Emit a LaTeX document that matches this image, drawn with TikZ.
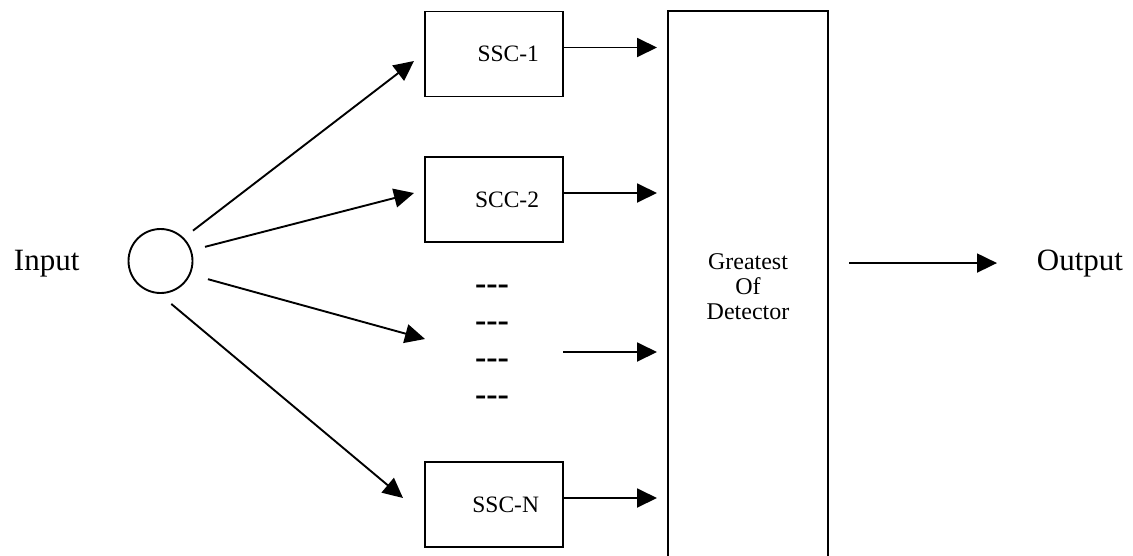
\documentclass[tikz,border=0pt]{standalone}
\usepackage{fontspec}
\setmainfont{Liberation Serif}
\usetikzlibrary{arrows.meta}

\begin{document}
\begin{tikzpicture}[x=1pt, y=-1pt, >={Triangle[length=20pt,width=19pt]}, line width=1.9pt]
        \tikzset{
  inputnode/.style={
    circle,
    draw,
    minimum size=64pt,
    inner sep=0pt
  },
  every ssc/.style={
    rectangle,
    draw,
    minimum width=138pt,
    minimum height=85pt,
    text width=90pt,
    inner xsep=24pt,
    align=right,
    outer sep=0pt,
    font=\fontsize{23.5}{26}\selectfont
  },
  godbox/.style={
    rectangle,
    draw,
    minimum width=160pt,
    minimum height=552pt,
    align=center,
    outer sep=0pt,
    font=\fontsize{24}{25}\selectfont
  },
  plaintext/.style={
    inner sep=0pt,
    font=\fontsize{31}{31}\selectfont
  },
  dashtext/.style={
    inner sep=0pt,
    font=\fontsize{34}{34}\selectfont\bfseries
  }
}

\useasboundingbox (0,0) rectangle (1133,555);

\node [plaintext, anchor=base west] (input) at (13,270) {Input};
\node [inputnode] (in) at (160.5,261) {};

\foreach \m/\l/\y in {1/SSC-1/54, 2/SCC-2/199.5, N/SSC-N/504.5}
  \node [every ssc] (ssc-\m) at (494,\y) {\l};

\node [godbox] (god) at (748,287) {Greatest\\Of\\Detector};
\node [plaintext, anchor=base west] (output) at (1036,270) {Output};

\foreach \k/\y in {1/294,2/331,3/368,4/405}
  \node [dashtext, anchor=base] (dash-\k) at (492,\y) {\mbox{-}\mbox{-}\mbox{-}};

% free ends of the fan
\coordinate (tip-1) at (414,61);
\coordinate (tip-2) at (414,193);
\coordinate (tip-3) at (425,339);
\coordinate (tip-N) at (403,498);
\coordinate (dashout) at (563,352);

\foreach \a/\g/\m in {45.8/11.6/1, 19.3/13.8/2, -24.4/18/3, -92.5/15.6/N}
  \draw [->, shorten <=\g pt] (in.\a) -- (tip-\m);

\foreach \m in {1,2,N}
  \draw [->, shorten >=11pt] ([yshift=6.5pt]ssc-\m.east) -- ([yshift=6.5pt]ssc-\m.east -| god.west);
\draw [->, shorten >=11pt] (dashout) -- (dashout -| god.west);

\draw [->, shorten <=21pt, shorten >=39pt] (god.east |- output.west) -- (output.west);
      \end{tikzpicture}
\end{document}
